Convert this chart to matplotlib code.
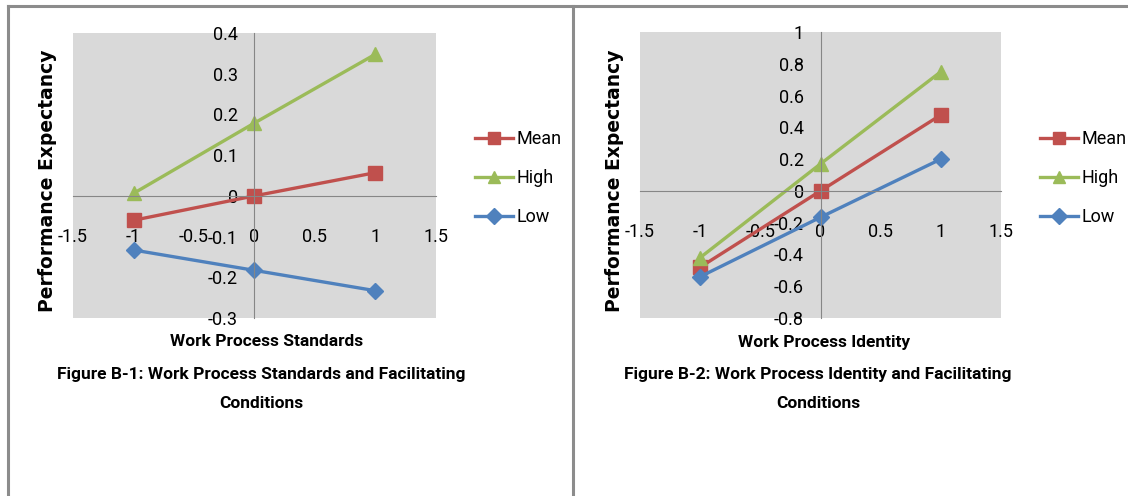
import matplotlib.pyplot as plt
from matplotlib.lines import Line2D

plt.rcParams['axes.unicode_minus'] = False

# moderator levels on the x axis
x = [-1, 0, 1]

# Figure B-1: Work Process Standards
std_mean = [-0.06, 0.0, 0.057]
std_high = [0.006, 0.179, 0.348]
std_low = [-0.133, -0.183, -0.233]

# Figure B-2: Work Process Identity
ide_mean = [-0.48, 0.0, 0.478]
ide_high = [-0.42, 0.17, 0.75]
ide_low = [-0.54, -0.166, 0.20]

series_names = ['Mean', 'High', 'Low']
xticks = [-1.5, -1, -0.5, 0, 0.5, 1, 1.5]
xtick_labels = ['-1.5', '-1', '-0.5', '0', '0.5', '1', '1.5']
std_yticks = [-0.3, -0.2, -0.1, 0, 0.1, 0.2, 0.3, 0.4]
std_ylabels = ['-0.3', '-0.2', '-0.1', '0', '0.1', '0.2', '0.3', '0.4']
ide_yticks = [-0.8, -0.6, -0.4, -0.2, 0, 0.2, 0.4, 0.6, 0.8, 1]
ide_ylabels = ['-0.8', '-0.6', '-0.4', '-0.2', '0', '0.2', '0.4', '0.6', '0.8', '1']

xlabels = ['Work Process Standards', 'Work Process Identity']
captions = [('Figure B-1: Work Process Standards and Facilitating', 'Conditions'),
            ('Figure B-2: Work Process Identity and Facilitating', 'Conditions')]

RED = '#C0504D'
GREEN = '#9BBB59'
BLUE = '#4F81BD'
AXIS = '#868686'
narrow = ['Roboto', 'DejaVu Sans']

W, H = 1128, 496
fig = plt.figure(figsize=(W / 100, H / 100), dpi=100)


def px(x0, y0, x1, y1):
    return [x0 / W, 1 - y1 / H, (x1 - x0) / W, (y1 - y0) / H]


def panel(rect, mean, high, low, yticks, ylabels, ylim, leg_x, xlabel_x, xlabel, caption, ylab_x):
    ax = fig.add_axes(px(*rect))
    ax.set_facecolor('#D9D9D9')
    ax.plot(x, mean, color=RED, lw=2.4, marker='s', ms=10, label=series_names[0])
    ax.plot(x, high, color=GREEN, lw=2.4, marker='^', ms=10, label=series_names[1])
    ax.plot(x, low, color=BLUE, lw=2.4, marker='D', ms=8, label=series_names[2])
    ax.set_xlim(-1.5, 1.5)
    ax.set_ylim(*ylim)
    for s in ['top', 'right']:
        ax.spines[s].set_visible(False)
    ax.spines['left'].set_position(('data', 0))
    ax.spines['bottom'].set_position(('data', 0))
    for s in ['left', 'bottom']:
        ax.spines[s].set_color(AXIS)
        ax.spines[s].set_linewidth(0.8)
    ax.set_xticks(xticks)
    ax.set_xticklabels(xtick_labels, family=narrow, fontsize=13)
    ax.set_yticks(yticks)
    ax.set_yticklabels(ylabels, family=narrow, fontsize=13)
    ax.tick_params(axis='x', length=0, pad=23)
    ax.tick_params(axis='y', length=0, pad=12)

    leg = ax.legend(loc='center left', bbox_to_anchor=(leg_x / W, 1 - 178 / H),
                    bbox_transform=fig.transFigure, frameon=False, numpoints=1,
                    handlelength=2.1, handletextpad=0.2, labelspacing=1.17,
                    borderpad=0, borderaxespad=0,
                    prop={'family': narrow, 'size': 13})
    for h in leg.legend_handles:
        h.set_markersize(8)

    fig.text(ylab_x / W, 1 - 181 / H, 'Performance Expectancy', rotation=90,
             ha='center', va='center', fontsize=13.5, fontweight='bold', family='DejaVu Sans')
    fig.text(xlabel_x / W, 1 - 342 / H, xlabel, ha='center', va='center',
             fontsize=12.5, fontweight='bold', family=narrow)
    fig.text((xlabel_x - 6) / W, 1 - 375 / H, caption[0], ha='center', va='center',
             fontsize=12.5, fontweight='bold', family=narrow)
    fig.text((xlabel_x - 6) / W, 1 - 404 / H, caption[1], ha='center', va='center',
             fontsize=12.5, fontweight='bold', family=narrow)
    return ax


panel((73, 33, 436, 318), std_mean, std_high, std_low, std_yticks, std_ylabels,
      (-0.3, 0.4), 475, 267, xlabels[0], captions[0], 48)
panel((640, 32, 1001, 318), ide_mean, ide_high, ide_low, ide_yticks, ide_ylabels,
      (-0.8, 1.0), 1040, 824, xlabels[1], captions[1], 615)

# page frame around the two figures
frame = dict(color='#8C8C8C', lw=2.2, transform=fig.transFigure)
fig.add_artist(Line2D([8 / W, 1], [1 - 6 / H, 1 - 6 / H], **frame))
fig.add_artist(Line2D([8 / W, 8 / W], [0, 1 - 6 / H], **frame))
fig.add_artist(Line2D([573 / W, 573 / W], [0, 1 - 6 / H], **frame))

fig.savefig('out.png', dpi=100)
